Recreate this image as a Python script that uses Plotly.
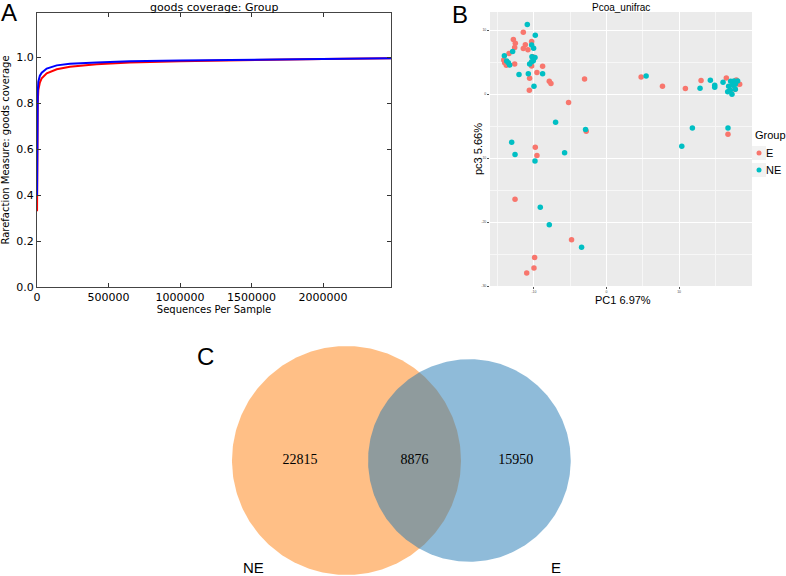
import numpy as np
import plotly.graph_objects as go

W, H = 786, 576

# ---------------- Panel A: rarefaction (goods coverage) ----------------
depth = [300, 1000, 2000, 3500, 5000, 9300, 20000, 33000, 68000, 138000,
         230000, 417000, 650000, 1000000, 1500000, 2000000, 2475000]
coverage_red = [0.33, 0.50, 0.64, 0.75, 0.80, 0.858, 0.89, 0.909, 0.930, 0.948,
                0.959, 0.970, 0.977, 0.983, 0.989, 0.993, 0.996]
coverage_blue = [0.40, 0.58, 0.70, 0.80, 0.845, 0.894, 0.920, 0.933, 0.951, 0.965,
                 0.972, 0.978, 0.983, 0.986, 0.990, 0.993, 0.996]
a_xticks = [0, 500000, 1000000, 1500000, 2000000]
a_yticks = [0.0, 0.2, 0.4, 0.6, 0.8, 1.0]

# ---------------- Panel B: PCoA (unifrac) ----------------
pc1_E = [-11.47, -12.84, -12.57, -12.66, -13.44, -11.19, -11.47, -10.83, -10.32,
         -14.17, -14.04, -13.81, -12.66, -10.32, -8.81, -9.59, -10.6, -7.89, -7.66,
         -10.64, -10.18, -3.03, -5.23, -2.80, -9.82, -9.59, -12.61, -4.82, -9.91,
         -10.0, -11.0, 4.77, 7.71, 10.87, 13.03, 16.51, 17.89, 18.07, 18.35, 17.71,
         16.74]
pc3_E = [9.69, 8.55, 7.98, 7.31, 6.37, 7.72, 7.15, 6.94, 8.24,
         5.34, 4.92, 4.51, 4.72, 4.40, 4.35, 3.37, 2.49, 2.02, 1.66,
         0.62, 5.85, 2.38, -1.30, -5.80, -8.29, -9.59, -16.42, -22.75, -25.54,
         -27.2, -27.98, 2.69, 1.24, 0.88, 2.12, 2.54, 2.23, 1.61, 1.55, 0.78,
         -6.27]
pc1_NE = [-10.92, -9.82, -10.32, -10.05, -12.94, -14.08, -13.76, -13.53, -13.35,
          -10.28, -9.86, -10.09, -10.32, -10.6, -12.06, -10.78, -8.81, -10.0,
          5.46, 12.89, 14.31, 14.91, 14.91, 16.06, 17.11, 17.57, 18.07, 16.83,
          17.39, 17.75, 16.7, 17.06, 17.29, 17.75, -7.02, -2.89, -13.07, -12.61,
          -9.86, -5.78, -9.13, -7.89, -3.44, 11.83, 10.37, 16.74]
pc3_NE = [10.88, 9.22, 7.67, 7.20, 6.68, 6.01, 5.18, 4.92, 4.56,
          5.85, 5.75, 5.23, 5.08, 4.72, 3.06, 3.21, 3.21, 1.24,
          2.85, 0.93, 2.18, 1.40, 1.09, 1.87, 2.02, 2.07, 2.07, 1.24,
          1.40, 1.55, 0.36, 0.62, 0.0, 0.78, -4.40, -5.54, -7.51, -9.43,
          -10.47, -9.17, -17.67, -20.41, -23.94, -5.28, -8.13, -5.28]
b_xticks = [-10, 0, 10]
b_yticks = [-30, -20, -10, 0, 10]

# ---------------- Panel C: Venn ----------------
venn_labels = ["NE", "E"]
only_NE = 22815
shared = 8876
only_E = 15950

# ---------------- helpers ----------------
def xdom(a, b):
    return [a / W, b / W]

def ydom(top, bottom):
    return [1 - bottom / H, 1 - top / H]

fig = go.Figure()

# Panel A traces
fig.add_trace(go.Scatter(x=depth, y=coverage_red, mode="lines",
                         line=dict(color="#ff0000", width=2), xaxis="x", yaxis="y",
                         showlegend=False))
fig.add_trace(go.Scatter(x=depth, y=coverage_blue, mode="lines",
                         line=dict(color="#0000ff", width=2), xaxis="x", yaxis="y",
                         showlegend=False))

# Panel B traces
col_E = "#F8766D"
col_NE = "#00BFC4"
fig.add_trace(go.Scatter(x=pc1_E, y=pc3_E, mode="markers", name="E",
                         marker=dict(color=col_E, size=5.5), xaxis="x2", yaxis="y2",
                         showlegend=False))
fig.add_trace(go.Scatter(x=pc1_NE, y=pc3_NE, mode="markers", name="NE",
                         marker=dict(color=col_NE, size=5.5), xaxis="x2", yaxis="y2",
                         showlegend=False))

# Panel C: area-proportional Venn geometry
size_NE = only_NE + shared
size_E = only_E + shared
r1 = np.sqrt(size_NE / np.pi)
r2 = np.sqrt(size_E / np.pi)

def lens_area(d):
    if d >= r1 + r2:
        return 0.0
    if d <= abs(r1 - r2):
        return np.pi * min(r1, r2) ** 2
    a1 = r1 ** 2 * np.arccos((d * d + r1 * r1 - r2 * r2) / (2 * d * r1))
    a2 = r2 ** 2 * np.arccos((d * d + r2 * r2 - r1 * r1) / (2 * d * r2))
    a3 = 0.5 * np.sqrt((-d + r1 + r2) * (d + r1 - r2) * (d - r1 + r2) * (d + r1 + r2))
    return a1 + a2 - a3

lo, hi = abs(r1 - r2), r1 + r2
for _ in range(100):
    mid = 0.5 * (lo + hi)
    if lens_area(mid) > shared:
        lo = mid
    else:
        hi = mid
dist = 0.5 * (lo + hi)

t = np.linspace(0, 2 * np.pi, 361)
fig.add_trace(go.Scatter(x=r1 * np.cos(t), y=r1 * np.sin(t), mode="lines", fill="toself",
                         fillcolor="rgba(255,127,14,0.5)", line=dict(width=0),
                         xaxis="x3", yaxis="y3", showlegend=False, hoverinfo="skip"))
fig.add_trace(go.Scatter(x=dist + r2 * np.cos(t), y=r2 * np.sin(t), mode="lines", fill="toself",
                         fillcolor="rgba(31,119,180,0.5)", line=dict(width=0),
                         xaxis="x3", yaxis="y3", showlegend=False, hoverinfo="skip"))

region_x = [(-r1 + dist - r2) / 2, ((dist - r2) + r1) / 2, (r1 + dist + r2) / 2]
region_txt = [only_NE, shared, only_E]
fig.add_trace(go.Scatter(x=region_x, y=[0, 0, 0], mode="text",
                         text=[str(v) for v in region_txt],
                         textfont=dict(family="Liberation Serif", size=14, color="black"),
                         xaxis="x3", yaxis="y3", showlegend=False, hoverinfo="skip"))

# pixel scale for Venn axis
s = 114.5 / r1
cx_px, cy_px = 346.5, 460.5
v_top, v_bot = 318, 576

def ann(x, y, text, size, family="Liberation Sans", xanchor="center", xref="paper",
        yref="paper", **kw):
    return dict(x=x, y=y, xref=xref, yref=yref, text=text, showarrow=False,
                xanchor=xanchor, yanchor="middle",
                font=dict(family=family, size=size, color="black"), **kw)

annotations = []
annotations.append(ann(-0.816 * r1, -(567 - cy_px) / s, venn_labels[0], 15,
                       xref="x3", yref="y3"))
annotations.append(ann(dist + 0.854 * r2, -(567 - cy_px) / s, venn_labels[1], 15,
                       xref="x3", yref="y3"))

# panel letters
for letter, px, py in [("A", 9, 13), ("B", 460, 14), ("C", 205, 356)]:
    annotations.append(ann(px / W, 1 - py / H, letter, 24))

# panel titles
annotations.append(ann(214 / W, 1 - 7 / H, "goods coverage: Group", 11, family="DejaVu Sans"))
annotations.append(ann(621 / W, 1 - 7 / H, "Pcoa_unifrac", 10))

# Panel B axis titles
annotations.append(ann(623 / W, 1 - 299.5 / H, "PC1 6.97%", 11))
annotations.append(ann(478 / W, 1 - 149 / H, "pc3 5.66%", 11, textangle=-90))

# Panel B legend (manual, ggplot style)
annotations.append(ann(753 / W, 1 - 135 / H, "Group", 11, xanchor="left"))
annotations.append(ann(764 / W, 1 - 153 / H, "E", 11, xanchor="left"))
annotations.append(ann(764 / W, 1 - 170 / H, "NE", 11, xanchor="left"))

shapes = [
    dict(type="rect", xref="x2 domain", yref="y2 domain", x0=0, x1=1, y0=0, y1=1,
         fillcolor="#EBEBEB", line=dict(width=0), layer="below"),
]
for col, py in [(col_E, 153), (col_NE, 170)]:
    shapes.append(dict(type="rect", xref="paper", yref="paper",
                       x0=752 / W, x1=766 / W, y0=1 - (py + 7) / H, y1=1 - (py - 7) / H,
                       fillcolor="#F2F2F2", line=dict(width=0)))
    shapes.append(dict(type="circle", xref="paper", yref="paper",
                       x0=756.5 / W, x1=761.5 / W, y0=1 - (py + 2.5) / H, y1=1 - (py - 2.5) / H,
                       fillcolor=col, line=dict(width=0)))

axis_font_mpl = dict(family="DejaVu Sans", size=11, color="black")

fig.update_layout(
    width=W, height=H,
    margin=dict(l=0, r=0, t=0, b=0, autoexpand=False),
    paper_bgcolor="white",
    plot_bgcolor="rgba(0,0,0,0)",
    showlegend=False,
    annotations=annotations,
    shapes=shapes,
    xaxis=dict(domain=xdom(37, 391), anchor="y", range=[0, 2475000], automargin=False,
               tickvals=a_xticks, ticktext=[str(v) for v in a_xticks],
               ticks="inside", ticklen=4, tickcolor="#333", mirror="ticks",
               showline=True, linecolor="#444", linewidth=1,
               showgrid=False, zeroline=False, tickfont=axis_font_mpl,
               title=dict(text="Sequences Per Sample", standoff=2,
                          font=dict(family="DejaVu Sans", size=10, color="black"))),
    yaxis=dict(domain=ydom(13, 287), anchor="x", range=[0, 1.193], automargin=False,
               tickvals=a_yticks, ticktext=["%.1f" % v for v in a_yticks],
               ticks="inside", ticklen=4, tickcolor="#333", mirror="ticks",
               showline=True, linecolor="#444", linewidth=1,
               showgrid=False, zeroline=False, tickfont=axis_font_mpl,
               title=dict(text="Rarefaction Measure: goods coverage", standoff=6,
                          font=dict(family="DejaVu Sans", size=10, color="black"))),
    xaxis2=dict(domain=xdom(490, 752), anchor="y2", range=[-16.06, 20.05], automargin=False,
                tickvals=b_xticks, ticktext=[str(v) for v in b_xticks],
                ticks="outside", ticklen=2, tickcolor="#555",
                showline=False, showgrid=True, gridcolor="white", gridwidth=1,
                minor=dict(dtick=5, showgrid=True, gridcolor="#F7F7F7", gridwidth=0.6),
                zeroline=False,
                tickfont=dict(family="Liberation Sans", size=3.5, color="#4D4D4D")),
    yaxis2=dict(domain=ydom(12, 286), anchor="x2", range=[-30, 12.85], automargin=False,
                tickvals=b_yticks, ticktext=[str(v) for v in b_yticks],
                ticks="outside", ticklen=2, tickcolor="#555",
                showline=False, showgrid=True, gridcolor="white", gridwidth=1,
                minor=dict(dtick=5, showgrid=True, gridcolor="#F7F7F7", gridwidth=0.6),
                zeroline=False,
                tickfont=dict(family="Liberation Sans", size=3.5, color="#4D4D4D")),
    xaxis3=dict(domain=[0, 1], anchor="y3", visible=False, automargin=False,
                range=[-cx_px / s, (W - cx_px) / s]),
    yaxis3=dict(domain=ydom(v_top, v_bot), anchor="x3", visible=False, automargin=False,
                range=[-(v_bot - cy_px) / s, (cy_px - v_top) / s]),
)

fig.write_html("out.html", config={"displayModeBar": False},
               post_script="document.body.style.margin='0';document.body.style.overflow='hidden';")
